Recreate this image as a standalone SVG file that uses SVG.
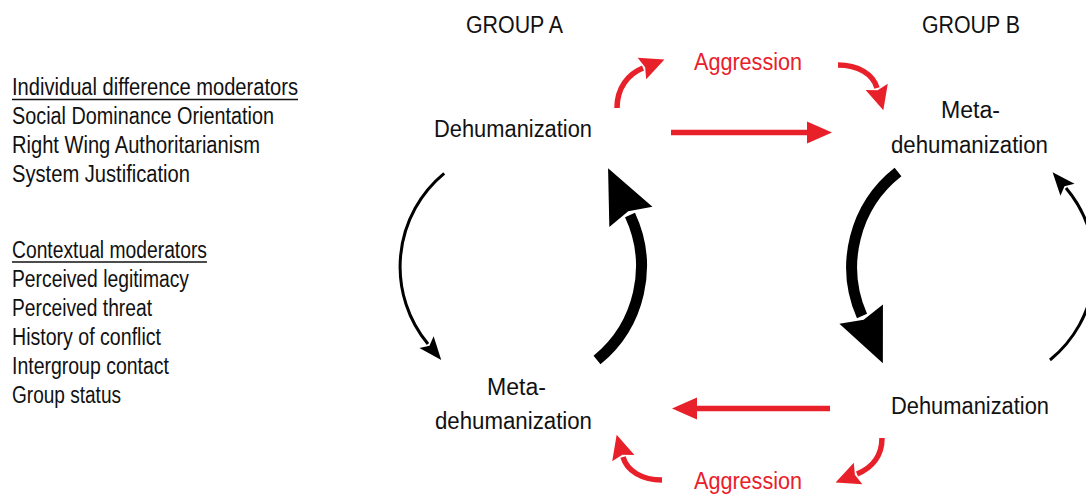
<svg xmlns="http://www.w3.org/2000/svg" width="1086" height="495" viewBox="0 0 1086 495">
<style>
text{font-family:"Liberation Sans Narrow","Liberation Sans",Arial,sans-serif;font-size:23px;fill:#111}
.mid{text-anchor:middle}
.red{fill:#e8202a}
.r{fill:none;stroke:#e8202a;stroke-width:5.5}
.bt{fill:none;stroke:#000;stroke-width:3}
.bk{fill:none;stroke:#000;stroke-width:11}
.ul{stroke:#111;stroke-width:1.3}
</style>
<defs>
<marker id="hr" markerUnits="userSpaceOnUse" markerWidth="30" markerHeight="30" viewBox="-2 -12 26 24" refX="0" refY="0" orient="auto">
<path d="M-1,-10 L20,0 L-1,10 L2,0 z" fill="#e8202a"/>
</marker>
<marker id="hs" markerUnits="userSpaceOnUse" markerWidth="30" markerHeight="30" viewBox="-2 -12 30 24" refX="0" refY="0" orient="auto">
<path d="M0,-11 L25,0 L0,11 z" fill="#e8202a"/>
</marker>
<marker id="ht" markerUnits="userSpaceOnUse" markerWidth="30" markerHeight="30" viewBox="-4 -10 26 20" refX="0" refY="0" orient="auto">
<path d="M-2,-8 L18,0 L-2,8 L2,0 z" fill="#000"/>
</marker>
<marker id="hk" markerUnits="userSpaceOnUse" markerWidth="60" markerHeight="60" viewBox="-4 -26 58 52" refX="0" refY="0" orient="auto">
<path d="M-2,-23 L50,0 L-2,23 L4,0 z" fill="#000"/>
</marker>
</defs>

<g id="moderators">
<text x="12" y="95" textLength="286" lengthAdjust="spacingAndGlyphs">Individual difference moderators</text>
<line class="ul" x1="12" y1="99.5" x2="298" y2="99.5"/>
<text x="12" y="124" textLength="262" lengthAdjust="spacingAndGlyphs">Social Dominance Orientation</text>
<text x="12" y="153" textLength="248" lengthAdjust="spacingAndGlyphs">Right Wing Authoritarianism</text>
<text x="12" y="182" textLength="178" lengthAdjust="spacingAndGlyphs">System Justification</text>
<text x="12" y="258" textLength="195" lengthAdjust="spacingAndGlyphs">Contextual moderators</text>
<line class="ul" x1="12" y1="262" x2="207" y2="262"/>
<text x="12" y="287" textLength="177" lengthAdjust="spacingAndGlyphs">Perceived legitimacy</text>
<text x="12" y="316" textLength="140" lengthAdjust="spacingAndGlyphs">Perceived threat</text>
<text x="12" y="345" textLength="149" lengthAdjust="spacingAndGlyphs">History of conflict</text>
<text x="12" y="374" textLength="157" lengthAdjust="spacingAndGlyphs">Intergroup contact</text>
<text x="12" y="403" textLength="109" lengthAdjust="spacingAndGlyphs">Group status</text>
</g>

<g id="group-a-label"><text x="466" y="33" textLength="97" lengthAdjust="spacingAndGlyphs">GROUP A</text></g>
<g id="group-b-label"><text x="922" y="33" textLength="98" lengthAdjust="spacingAndGlyphs">GROUP B</text></g>

<g id="a-dehumanization"><text x="434" y="137" textLength="158" lengthAdjust="spacingAndGlyphs">Dehumanization</text></g>
<g id="a-metadehumanization">
<text x="487" y="395" textLength="59" lengthAdjust="spacingAndGlyphs">Meta-</text>
<text x="435" y="429" textLength="157" lengthAdjust="spacingAndGlyphs">dehumanization</text>
</g>
<g id="b-metadehumanization">
<text x="941" y="118" textLength="59" lengthAdjust="spacingAndGlyphs">Meta-</text>
<text x="891" y="153" textLength="157" lengthAdjust="spacingAndGlyphs">dehumanization</text>
</g>
<g id="b-dehumanization"><text x="891" y="414" textLength="158" lengthAdjust="spacingAndGlyphs">Dehumanization</text></g>

<g id="aggression-top"><text class="red" x="694" y="70" textLength="108" lengthAdjust="spacingAndGlyphs">Aggression</text></g>
<g id="aggression-bottom"><text class="red" x="694" y="489" textLength="108" lengthAdjust="spacingAndGlyphs">Aggression</text></g>

<g id="connectors">
<path class="r" d="M671,132.5 H807" stroke-width="6" marker-end="url(#hs)"/>
<path class="r" d="M830,408.5 H697" stroke-width="6" marker-end="url(#hs)"/>
<path class="r" d="M617,108 C617,88 628,74 643,68" marker-end="url(#hr)"/>
<path class="r" d="M838,65 C858,65 873,74 877,88" marker-end="url(#hr)"/>
<path class="r" d="M882,438 C882,456 872,468 857,474" marker-end="url(#hr)"/>
<path class="r" d="M662,480 C642,480 627,471 623,457" marker-end="url(#hr)"/>
<path class="bt" d="M444.2,173.3 A121,121 0 0 0 428,344" marker-end="url(#ht)"/>
<path class="bk" d="M597,360 A121,121 0 0 0 630,215" marker-end="url(#hk)"/>
<path class="bk" d="M898,172 A121,121 0 0 0 862,316" marker-end="url(#hk)"/>
<path class="bt" d="M1050,360 A121,121 0 0 0 1066,188" marker-end="url(#ht)"/>
</g>
</svg>
